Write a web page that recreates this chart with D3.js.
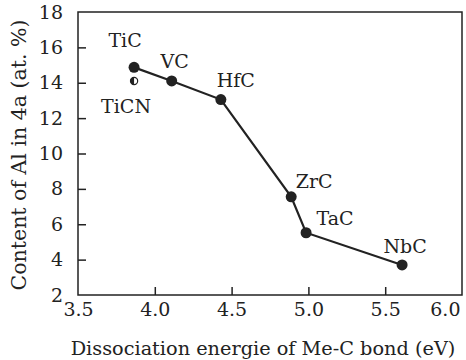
<!DOCTYPE html>
<html>
<head>
<meta charset="utf-8">
<script src="https://cdn.jsdelivr.net/npm/d3@7"></script>
<style>
  html, body { margin: 0; padding: 0; background: #fff; }
  svg { display: block; }
</style>
</head>
<body>
<svg id="chart" width="466" height="360"></svg>
<script>
// Carbides: Me-C bond dissociation energy (eV) vs. Al content in 4a sites (at. %)
const carbides = ["TiC", "VC", "HfC", "ZrC", "TaC", "NbC"];
const energies = [3.865, 4.11, 4.43, 4.888, 4.985, 5.61];
const alContent = [14.87, 14.1, 13.05, 7.55, 5.52, 3.7];

// Carbonitride shown as a separate half-filled marker
const extraNames = ["TiCN"];
const extraEnergies = [3.865];
const extraContent = [14.1];

const xTicks = [3.5, 4.0, 4.5, 5.0, 5.5, 6.0];
const yTicks = [2, 4, 6, 8, 10, 12, 14, 16, 18];

const FONT = "'DejaVu Serif', 'Liberation Serif', serif";
const ink = "#222";

const svg = d3.select("#chart");
const m = { left: 78, right: 462, top: 12, bottom: 295 };

const x = d3.scaleLinear().domain([3.5, 6.0]).range([m.left, m.right]);
const y = d3.scaleLinear().domain([2, 18]).range([m.bottom, m.top]);

// axes with inward ticks
const xAxis = svg.append("g")
  .attr("transform", `translate(0,${m.bottom})`)
  .call(d3.axisBottom(x).tickValues(xTicks).tickFormat(d3.format(".1f"))
        .tickSizeInner(-8).tickSizeOuter(0).tickPadding(8));
const yAxis = svg.append("g")
  .attr("transform", `translate(${m.left},0)`)
  .call(d3.axisLeft(y).tickValues(yTicks).tickFormat(d3.format("d"))
        .tickSizeInner(-8).tickSizeOuter(0).tickPadding(15));

[xAxis, yAxis].forEach(g => {
  g.select(".domain").remove();
  g.selectAll(".tick line").attr("stroke", ink).attr("stroke-width", 1.5);
  g.selectAll(".tick text").attr("fill", ink)
    .style("font-family", FONT).style("font-size", "19px");
});
// no tick marks on the frame corners
xAxis.selectAll(".tick line").filter(d => d === 3.5 || d === 6.0).remove();
yAxis.selectAll(".tick line").filter(d => d === 2 || d === 18).remove();
// last x label kept inside the figure
xAxis.selectAll(".tick text").filter(d => d === 6.0)
  .attr("text-anchor", "end").attr("x", -2);

// frame
svg.append("rect")
  .attr("x", m.left).attr("y", m.top)
  .attr("width", m.right - m.left).attr("height", m.bottom - m.top)
  .attr("fill", "none").attr("stroke", ink).attr("stroke-width", 1.5);

// axis titles
svg.append("text")
  .attr("x", 263).attr("y", 355)
  .attr("text-anchor", "middle").attr("fill", ink)
  .style("font-family", FONT).style("font-size", "19.3px")
  .text("Dissociation energie of Me-C bond (eV)");
svg.append("text")
  .attr("transform", `translate(26,155) rotate(-90)`)
  .attr("text-anchor", "middle").attr("fill", ink)
  .style("font-family", FONT).style("font-size", "20.5px")
  .text("Content of Al in 4a (at. %)");

// connecting line
const pts = carbides.map((c, i) => ({ name: c, e: energies[i], a: alContent[i] }));
svg.append("path")
  .datum(pts)
  .attr("d", d3.line().x(d => x(d.e)).y(d => y(d.a)))
  .attr("fill", "none").attr("stroke", ink).attr("stroke-width", 2.2);

svg.selectAll("circle.pt").data(pts).join("circle")
  .attr("class", "pt")
  .attr("cx", d => x(d.e)).attr("cy", d => y(d.a)).attr("r", 5.5)
  .attr("fill", ink);

// half-filled marker
const ex = extraNames.map((n, i) => ({ name: n, e: extraEnergies[i], a: extraContent[i] }));
ex.forEach(d => {
  const cx = x(d.e), cy = y(d.a), r = 3.6;
  svg.append("circle").attr("cx", cx).attr("cy", cy).attr("r", r)
    .attr("fill", "#fff").attr("stroke", ink).attr("stroke-width", 1.2);
  svg.append("path")
    .attr("d", `M${cx},${cy - r} A${r},${r} 0 0 0 ${cx},${cy + r} Z`)
    .attr("fill", ink);
});

// point labels
const labelOffsets = {
  TiC: [-9, -20], VC: [3, -13], HfC: [15, -13], ZrC: [23, -9],
  TaC: [29, -8], NbC: [3, -12], TiCN: [-8, 32]
};
pts.concat(ex).forEach(d => {
  const o = labelOffsets[d.name];
  svg.append("text")
    .attr("x", x(d.e) + o[0]).attr("y", y(d.a) + o[1])
    .attr("text-anchor", "middle").attr("fill", ink)
    .style("font-family", FONT).style("font-size", "19px")
    .text(d.name);
});
</script>
</body>
</html>
